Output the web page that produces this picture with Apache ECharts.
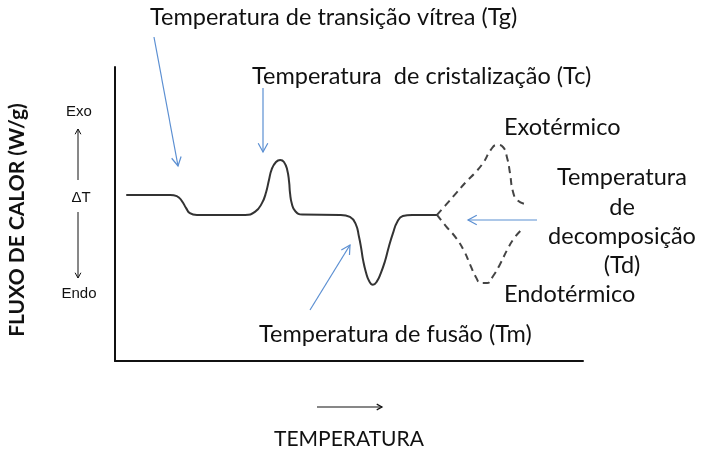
<!DOCTYPE html>
<html>
<head>
<meta charset="utf-8">
<script src="https://cdn.jsdelivr.net/npm/echarts@6/dist/echarts.min.js"></script>
<style>
  html, body { margin: 0; padding: 0; background: #fff; }
  #main { width: 701px; height: 456px; }
</style>
</head>
<body>
<div id="main"></div>
<script>
// curva DSC esquemática: [temperatura, fluxo de calor] (unidades arbitrárias 0-100)
var curvaPrincipal = [
  [2.4, 56.5], [11.8, 56.5], [13.2, 56.1], [14.3, 54.4], [15.2, 52.0],
  [16.0, 50.3], [17.5, 49.7], [20.3, 49.7],
  [27.8, 49.7], [29.9, 50.7], [31.4, 53.7], [32.3, 57.5], [32.9, 61.6],
  [33.5, 65.3], [34.4, 67.7], [35.3, 68.4], [36.1, 67.7], [36.8, 65.0],
  [37.2, 60.9], [37.4, 57.1], [37.8, 53.4], [38.5, 51.0], [40.0, 49.8],
  [48.1, 49.7], [50.2, 49.0], [51.5, 46.3], [52.1, 42.5], [52.6, 38.4],
  [53.0, 34.4], [53.6, 30.3], [54.3, 27.2], [55.1, 25.9], [55.9, 26.9],
  [56.8, 29.9], [57.7, 34.0], [58.5, 38.8], [59.4, 43.5], [60.3, 47.3],
  [61.5, 49.3], [63.5, 49.7], [68.8, 49.7]
];
// decomposição exotérmica (tracejado de cima)
var curvaExo = [
  [68.8, 49.7], [70.7, 53.1], [72.9, 57.1], [75.0, 60.9], [77.1, 64.3],
  [78.8, 67.7], [80.3, 71.8], [81.6, 73.5], [82.9, 72.8], [83.8, 69.0],
  [84.4, 63.9], [85.0, 57.8], [85.9, 54.8], [87.6, 53.4]
];
// decomposição endotérmica (tracejado de baixo)
var curvaEndo = [
  [68.8, 49.7], [70.7, 45.9], [72.9, 41.8], [74.6, 37.4], [75.9, 32.7],
  [77.1, 28.6], [78.2, 26.5], [79.5, 26.5], [80.8, 28.9], [82.3, 33.0],
  [83.8, 37.8], [85.3, 41.8], [87.2, 45.2]
];

var azul = '#5b8fd2';
var fonteTexto = '23.5px Lato';
var fontePequena = '15px "Liberation Sans"';

// seta com ponta aberta em "V"
function seta(x1, y1, x2, y2, cor, larg, cab) {
  var a = Math.atan2(y2 - y1, x2 - x1);
  var abre = 0.5;
  return {
    type: 'group',
    children: [
      { type: 'line', shape: { x1: x1, y1: y1, x2: x2, y2: y2 },
        style: { stroke: cor, lineWidth: larg } },
      { type: 'polyline',
        shape: { points: [
          [x2 - cab * Math.cos(a - abre), y2 - cab * Math.sin(a - abre)],
          [x2, y2],
          [x2 - cab * Math.cos(a + abre), y2 - cab * Math.sin(a + abre)]
        ] },
        style: { stroke: cor, lineWidth: larg, fill: null } }
    ]
  };
}
function texto(t, x, y, font, align) {
  return { type: 'text', x: x, y: y,
    style: { text: t, font: font, fill: '#111', textAlign: align || 'left', textVerticalAlign: 'middle' } };
}

var myChart = echarts.init(document.getElementById('main'));
myChart.setOption({
  animation: false,
  grid: { left: 115, right: 118, top: 67, bottom: 95 },
  xAxis: {
    type: 'value', min: 0, max: 100,
    name: 'TEMPERATURA', nameLocation: 'middle', nameGap: 68,
    nameTextStyle: { fontFamily: 'Lato', fontSize: 21, color: '#111' },
    axisLine: { onZero: false, lineStyle: { color: '#111', width: 2 } },
    axisTick: { show: false }, axisLabel: { show: false }, splitLine: { show: false }
  },
  yAxis: {
    type: 'value', min: 0, max: 100,
    axisLine: { onZero: false, lineStyle: { color: '#111', width: 2 } },
    axisTick: { show: false }, axisLabel: { show: false }, splitLine: { show: false }
  },
  series: [
    { type: 'line', data: curvaPrincipal, symbol: 'none', smooth: 0.5,
      lineStyle: { color: '#333', width: 2 } },
    { type: 'line', data: curvaExo, symbol: 'none', smooth: 0.5,
      lineStyle: { color: '#444', width: 2, type: [7, 5] } },
    { type: 'line', data: curvaEndo, symbol: 'none', smooth: 0.5,
      lineStyle: { color: '#444', width: 2, type: [7, 5] } }
  ],
  graphic: [
    { type: 'text', x: 17, y: 220, rotation: Math.PI / 2,
      style: { text: 'FLUXO DE CALOR (W/g)', font: 'bold 21px Lato', fill: '#111',
        textAlign: 'center', textVerticalAlign: 'middle' } },
    texto('Temperatura de transição vítrea (Tg)', 150, 17, fonteTexto),
    texto('Temperatura  de cristalização (Tc)', 252, 76, fonteTexto),
    texto('Exotérmico', 504, 127, fonteTexto),
    texto('Temperatura', 622, 177, fonteTexto, 'center'),
    texto('de', 622, 207, fonteTexto, 'center'),
    texto('decomposição', 622, 236, fonteTexto, 'center'),
    texto('(Td)', 622, 265, fonteTexto, 'center'),
    texto('Endotérmico', 504, 294, fonteTexto),
    texto('Temperatura de fusão (Tm)', 259, 334, fonteTexto),
    texto('Exo', 79, 112, fontePequena, 'center'),
    texto('ΔT', 81, 198, fontePequena, 'center'),
    texto('Endo', 79, 294, fontePequena, 'center'),
    seta(78, 180, 78, 129, '#111', 1, 6),
    seta(78, 212, 78, 278, '#111', 1, 6),
    seta(317, 407, 382, 407, '#111', 1.2, 6),
    seta(154, 37, 178, 166, azul, 1.2, 10),
    seta(263, 88, 263, 152, azul, 1.2, 10),
    seta(310, 310, 350, 245, azul, 1.2, 10),
    seta(537, 220, 468, 220, azul, 1.2, 10)
  ]
});
window.onresize = function () { myChart.resize(); };
</script>
</body>
</html>
